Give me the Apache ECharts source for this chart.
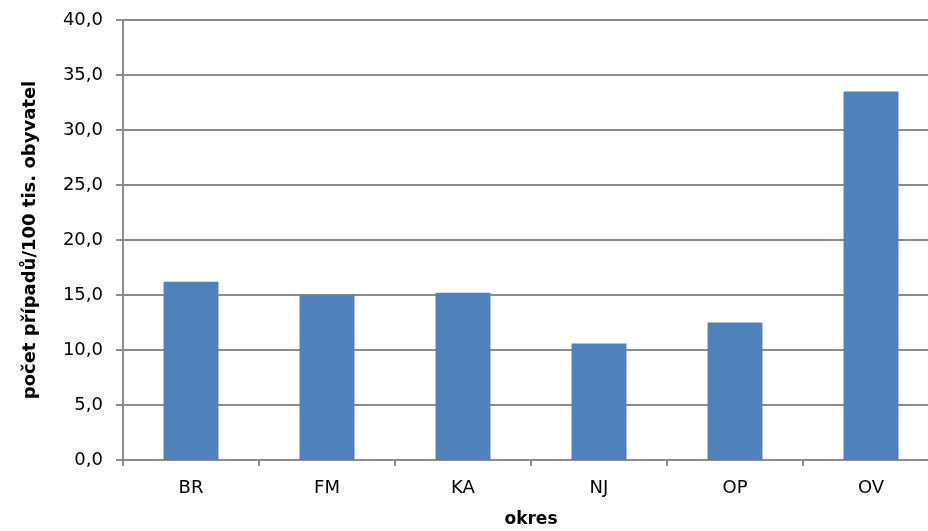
<!DOCTYPE html>
<html>
<head>
<meta charset="utf-8">
<script src="https://cdn.jsdelivr.net/npm/echarts@6/dist/echarts.min.js"></script>
<style>
  html, body { margin: 0; padding: 0; background: #fff; overflow: hidden; }
  #chart { width: 928px; height: 531px; }
</style>
</head>
<body>
<div id="chart"></div>
<script>
// Okresy a počet případů na 100 tis. obyvatel
const districts = ['BR', 'FM', 'KA', 'NJ', 'OP', 'OV'];
const casesPer100k = [16.2, 15.0, 15.2, 10.6, 12.5, 33.5];
const yTitle = 'počet případů/100 tis. obyvatel';
const xTitle = 'okres';

const FONT = '"DejaVu Sans", "Noto Sans", sans-serif';
const AXIS_GRAY = '#8c8c8c';
const chart = echarts.init(document.getElementById('chart'), null, { renderer: 'canvas', width: 928, height: 531 });

chart.setOption({
  animation: false,
  backgroundColor: '#ffffff',
  // the plot runs slightly past the right edge of the canvas
  grid: {
    left: 123, right: -11, top: 20, bottom: 71,
    containLabel: false,
    outerBoundsMode: 'none'
  },
  xAxis: {
    type: 'category',
    data: districts,
    name: xTitle,
    nameLocation: 'middle',
    nameGap: 51,
    nameTextStyle: { fontFamily: FONT, fontSize: 17, fontWeight: 'bold', color: '#000' },
    axisLine: { lineStyle: { color: AXIS_GRAY, width: 2 } },
    axisTick: { show: true, alignWithLabel: false, length: 6, lineStyle: { color: AXIS_GRAY, width: 2 } },
    axisLabel: { fontFamily: FONT, fontSize: 18, color: '#000', margin: 19 }
  },
  yAxis: {
    type: 'value',
    min: 0,
    max: 40,
    interval: 5,
    name: yTitle,
    nameLocation: 'middle',
    nameGap: 84,
    nameTextStyle: { fontFamily: FONT, fontSize: 18, fontWeight: 'bold', color: '#000' },
    axisLine: { show: true, lineStyle: { color: AXIS_GRAY, width: 2 } },
    axisTick: { show: true, length: 7, lineStyle: { color: AXIS_GRAY, width: 2 } },
    axisLabel: {
      fontFamily: FONT, fontSize: 18, color: '#000', margin: 20,
      formatter: v => v.toFixed(1).replace('.', ',')
    },
    splitLine: { lineStyle: { color: AXIS_GRAY, width: 2 } }
  },
  series: [{
    type: 'bar',
    data: casesPer100k,
    barWidth: '40.4%',
    itemStyle: { color: '#4f81bd' }
  }]
});
</script>
</body>
</html>
